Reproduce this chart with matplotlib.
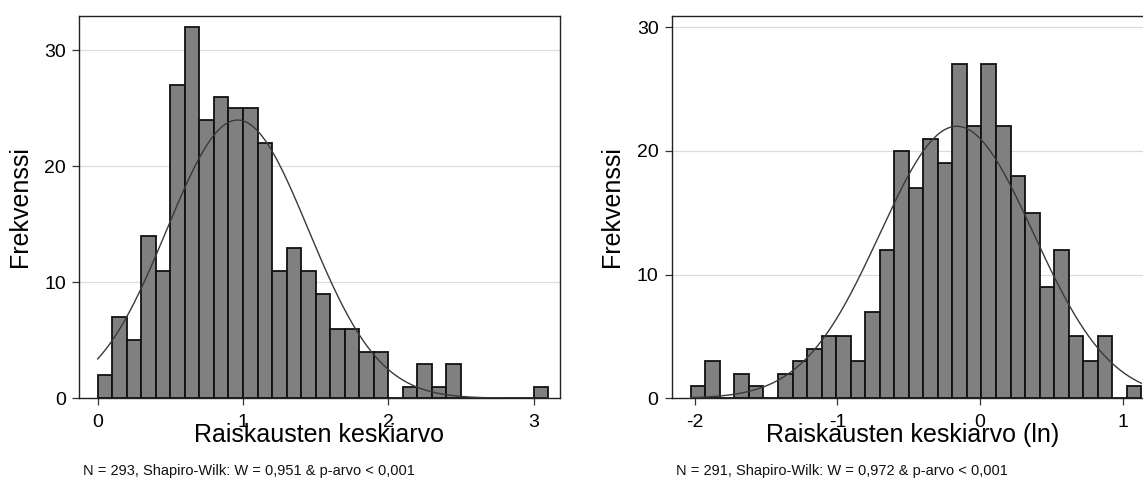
import numpy as np
import matplotlib
matplotlib.use("Agg")
import matplotlib.pyplot as plt

plt.rcParams['font.family'] = ['Liberation Sans', 'DejaVu Sans']

# ---- Data ----
left_counts = [2, 7, 5, 14, 11, 27, 32, 24, 26, 25, 25, 22, 11, 13, 11, 9,
               6, 6, 4, 4, 0, 1, 3, 1, 3, 0, 0, 0, 0, 0, 1]
left_bin_start = 0.0
left_bin_width = 0.1
left_mean, left_sd, left_n = 0.963, 0.487, 293

right_counts = [1, 3, 0, 2, 1, 0, 2, 3, 4, 5, 5, 3, 7, 12, 20, 17, 21, 19,
                27, 22, 27, 22, 18, 15, 9, 12, 5, 3, 5, 0, 1]
right_bin_start = -2.028
right_bin_width = 0.1019
right_mean, right_sd, right_n = -0.163, 0.538, 291

left_xticks = [0, 1, 2, 3]
right_xticks = [-2, -1, 0, 1]
yticks = [0, 10, 20, 30]

ylabel = "Frekvenssi"
left_xlabel = "Raiskausten keskiarvo"
right_xlabel = "Raiskausten keskiarvo (ln)"
left_note = "N = 293, Shapiro-Wilk: W = 0,951 & p-arvo < 0,001"
right_note = "N = 291, Shapiro-Wilk: W = 0,972 & p-arvo < 0,001"

W, H = 1143, 478
fig = plt.figure(figsize=(W / 100, H / 100), dpi=100)


def px_ax(x0, x1, ytop, ybot):
    return fig.add_axes([x0 / W, (H - ybot) / H, (x1 - x0) / W, (ybot - ytop) / H])


def draw(ax, counts, bstart, bw, mean, sd, n, xlim, ylim, xticks, xlabel, note):
    counts = np.asarray(counts, dtype=float)
    edges = bstart + bw * np.arange(len(counts) + 1)
    ax.set_axisbelow(True)
    for y in yticks[1:]:
        ax.axhline(y, color='#dcdcdc', lw=0.9, zorder=0)
    ax.bar(edges[:-1], counts, width=bw, align='edge', color='#808080',
           edgecolor='#111111', linewidth=1.3, zorder=2)
    xs = np.linspace(edges[0], edges[-1], 400)
    ys = n * bw / (sd * np.sqrt(2 * np.pi)) * np.exp(-0.5 * ((xs - mean) / sd) ** 2)
    ax.plot(xs, ys, color='#3a3a3a', lw=1.0, zorder=3)
    ax.set_xlim(*xlim)
    ax.set_ylim(*ylim)
    ax.set_xticks(xticks)
    ax.set_xticklabels([str(t) for t in xticks])
    ax.set_yticks(yticks)
    ax.tick_params(axis='both', direction='out', length=5, width=0.9,
                   color='#333333', labelsize=14)
    ax.tick_params(axis='x', pad=6.0)
    ax.tick_params(axis='y', pad=4.5)
    for s in ax.spines.values():
        s.set_color('#222222')
        s.set_linewidth(1.0)
    ax.set_ylabel(ylabel, fontsize=18, labelpad=9)
    ax.set_xlabel(xlabel, fontsize=18, labelpad=-5.5)
    ax.text(0.008, -0.189, note, transform=ax.transAxes, fontsize=10.5,
            ha='left', va='center', color='#111111')


axL = px_ax(79, 560, 15.7, 398.3)
draw(axL, left_counts, left_bin_start, left_bin_width, left_mean, left_sd, left_n,
     (-0.1287, 3.182), (0, 33), left_xticks, left_xlabel, left_note)

axR = px_ax(671.7, 1154, 15.7, 398.3)
draw(axR, right_counts, right_bin_start, right_bin_width, right_mean, right_sd, right_n,
     (-2.162, 1.22), (0, 30.93), right_xticks, right_xlabel, right_note)

fig.savefig("out.png", dpi=100)
